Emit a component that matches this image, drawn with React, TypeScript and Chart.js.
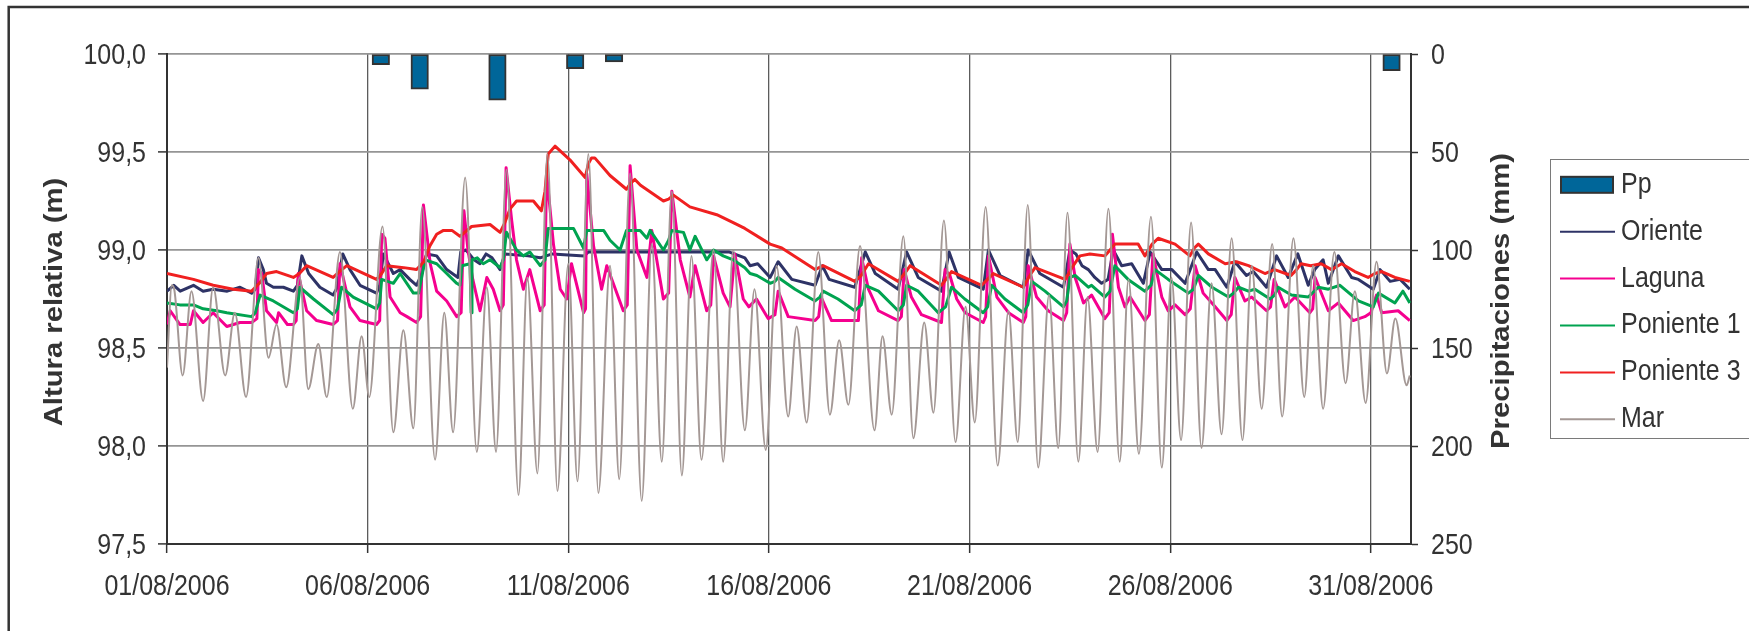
import React, { useEffect, useRef } from 'react';
import { Chart, registerables } from 'chart.js';

Chart.register(...registerables);

const W = 1749;
const H = 631;
const FONT = '"Liberation Sans", Arial, Helvetica, sans-serif';
const FS = 25;
const SY = 1.17;
const TXT = '#333333';

// ---- data ----
const barDates = ['01/08','02/08','03/08','04/08','05/08','06/08','07/08','08/08','09/08','10/08','11/08','12/08','13/08','14/08','15/08','16/08','17/08','18/08','19/08','20/08','21/08','22/08','23/08','24/08','25/08','26/08','27/08','28/08','29/08','30/08','31/08','01/09'];
const ppValues = [0,0,0,0,0,5.5,18,0,23.5,0,7.5,4,0,0,0,0,0,0,0,0,0,0,0,0,0,0,0,0,0,0,0,8.5];

const xTickDays = [0, 5, 10, 15, 20, 25, 30];
const xTickLabels = ['01/08/2006','06/08/2006','11/08/2006','16/08/2006','21/08/2006','26/08/2006','31/08/2006'];
const yTickValues = [97.5, 98, 98.5, 99, 99.5, 100];
const yTickLabels = ['97,5','98,0','98,5','99,0','99,5','100,0'];
const y2TickValues = [0, 50, 100, 150, 200, 250];
const y2TickLabels = ['0','50','100','150','200','250'];

// [day since 01/08/2006 00:00, level m]
const oriente: [number, number][] = [[0,98.79],[0.17,98.82],[0.33,98.79],[0.66,98.82],[0.90,98.79],[1.15,98.80],[1.50,98.79],[1.82,98.81],[2.11,98.78],[2.20,98.80],[2.28,98.96],[2.40,98.90],[2.48,98.83],[2.65,98.81],[2.90,98.81],[3.15,98.79],[3.25,98.82],[3.36,98.97],[3.53,98.88],[3.81,98.81],[4.14,98.77],[4.22,98.80],[4.38,98.98],[4.56,98.90],[4.81,98.82],[5.22,98.78],[5.30,98.82],[5.39,98.98],[5.64,98.88],[5.81,98.90],[6.05,98.85],[6.22,98.82],[6.35,98.88],[6.47,98.98],[6.72,98.97],[6.97,98.90],[7.25,98.86],[7.32,98.99],[7.45,99.00],[7.65,98.95],[7.80,98.93],[7.95,98.98],[8.10,98.96],[8.30,98.90],[8.42,98.98],[9.00,98.97],[9.30,98.96],[9.60,98.98],[10.40,98.97],[10.50,98.99],[14.00,98.99],[14.40,98.96],[14.53,98.92],[14.72,98.93],[15.03,98.86],[15.23,98.94],[15.57,98.85],[16.15,98.82],[16.33,98.92],[16.50,98.85],[17.14,98.81],[17.40,98.99],[17.65,98.88],[18.22,98.80],[18.43,98.99],[18.72,98.86],[19.30,98.79],[19.49,98.99],[19.72,98.86],[20.34,98.80],[20.47,99.00],[20.76,98.87],[21.34,98.81],[21.46,99.00],[21.75,98.88],[22.34,98.81],[22.50,99.00],[22.65,98.98],[22.80,98.92],[22.96,98.90],[23.12,98.86],[23.29,98.83],[23.45,98.85],[23.58,99.00],[23.79,98.92],[24.04,98.93],[24.33,98.83],[24.50,98.99],[24.79,98.90],[25.04,98.90],[25.37,98.83],[25.66,98.99],[25.95,98.90],[26.12,98.90],[26.41,98.81],[26.61,98.94],[26.90,98.87],[27.07,98.89],[27.40,98.81],[27.65,98.97],[27.94,98.86],[28.18,98.98],[28.44,98.82],[28.60,98.90],[28.81,98.95],[28.94,98.83],[29.19,98.97],[29.52,98.86],[29.69,98.85],[30.06,98.80],[30.23,98.90],[30.48,98.84],[30.73,98.85],[30.97,98.80]];

const laguna: [number, number][] = [[0,98.62],[0.08,98.69],[0.32,98.62],[0.58,98.62],[0.66,98.69],[0.90,98.63],[1.15,98.68],[1.49,98.61],[1.82,98.63],[2.11,98.63],[2.24,98.65],[2.28,98.90],[2.36,98.88],[2.48,98.69],[2.73,98.63],[2.78,98.68],[3.00,98.62],[3.15,98.62],[3.22,98.64],[3.27,98.88],[3.48,98.69],[3.73,98.64],[4.14,98.62],[4.25,98.64],[4.31,98.93],[4.56,98.71],[4.81,98.64],[5.22,98.62],[5.30,98.64],[5.35,99.08],[5.43,99.06],[5.56,98.76],[5.81,98.68],[5.98,98.66],[6.22,98.63],[6.32,98.66],[6.39,99.23],[6.56,98.93],[6.72,98.79],[6.97,98.74],[7.22,98.66],[7.33,98.68],[7.40,99.20],[7.50,99.00],[7.62,98.85],[7.80,98.69],[7.97,98.86],[8.13,98.80],[8.30,98.69],[8.38,98.72],[8.45,99.42],[8.59,99.15],[8.71,98.95],[8.88,98.80],[9.04,98.90],[9.30,98.69],[9.40,98.72],[9.46,99.39],[9.63,99.03],[9.80,98.80],[9.96,98.75],[10.08,98.93],[10.38,98.68],[10.43,98.70],[10.46,99.39],[10.63,99.02],[10.83,98.80],[10.96,98.92],[11.37,98.69],[11.47,98.72],[11.54,99.43],[11.71,99.00],[11.96,98.86],[12.08,99.10],[12.37,98.75],[12.50,98.78],[12.58,99.30],[12.79,98.95],[13.03,98.76],[13.16,98.92],[13.45,98.69],[13.55,98.72],[13.62,98.97],[13.86,98.78],[14.03,98.71],[14.15,98.98],[14.36,98.75],[14.50,98.71],[14.69,98.75],[14.98,98.65],[15.15,98.67],[15.23,98.79],[15.48,98.66],[16.15,98.64],[16.24,98.66],[16.30,98.76],[16.56,98.64],[17.23,98.64],[17.31,98.96],[17.48,98.80],[17.73,98.69],[18.22,98.64],[18.30,98.66],[18.37,98.90],[18.55,98.76],[18.80,98.67],[19.30,98.63],[19.39,98.90],[19.51,98.87],[19.68,98.75],[19.89,98.68],[20.34,98.63],[20.40,98.66],[20.47,98.97],[20.68,98.76],[20.97,98.68],[21.34,98.63],[21.40,98.66],[21.46,98.92],[21.67,98.76],[21.96,98.69],[22.34,98.64],[22.42,98.68],[22.50,99.03],[22.63,98.86],[22.84,98.73],[23.04,98.77],[23.37,98.65],[23.48,98.68],[23.56,99.08],[23.71,98.81],[23.87,98.71],[24.00,98.76],[24.37,98.64],[24.48,98.67],[24.57,98.98],[24.79,98.76],[24.95,98.69],[25.12,98.72],[25.37,98.67],[25.50,98.70],[25.62,98.92],[25.82,98.78],[26.12,98.71],[26.41,98.64],[26.52,98.67],[26.61,98.86],[26.86,98.74],[27.03,98.76],[27.40,98.69],[27.50,98.71],[27.59,98.85],[27.86,98.71],[28.11,98.76],[28.48,98.68],[28.55,98.70],[28.61,98.86],[28.94,98.69],[29.19,98.73],[29.56,98.64],[29.85,98.66],[30.00,98.68],[30.14,98.77],[30.27,98.68],[30.68,98.69],[30.97,98.64]];

const poniente1: [number, number][] = [[0,98.73],[0.32,98.72],[0.66,98.72],[0.90,98.70],[1.24,98.69],[1.49,98.68],[2.11,98.66],[2.20,98.68],[2.32,98.77],[2.65,98.74],[3.15,98.68],[3.25,98.70],[3.31,98.81],[3.65,98.75],[4.14,98.67],[4.25,98.70],[4.35,98.81],[4.64,98.76],[5.22,98.70],[5.30,98.73],[5.35,98.85],[5.64,98.83],[5.81,98.88],[6.14,98.78],[6.27,98.78],[6.43,98.95],[6.72,98.93],[6.97,98.88],[7.22,98.83],[7.30,98.82],[7.35,98.92],[7.55,98.93],[7.58,98.68],[7.60,98.95],[7.73,98.96],[7.88,98.93],[8.05,98.95],[8.30,98.91],[8.38,98.95],[8.46,99.09],[8.71,99.00],[8.88,98.97],[9.04,98.99],[9.30,98.92],[9.42,98.95],[9.50,99.11],[10.13,99.11],[10.38,99.01],[10.46,99.10],[10.88,99.10],[11.04,99.05],[11.29,99.00],[11.45,99.10],[11.79,99.10],[11.96,99.06],[12.04,99.10],[12.37,99.00],[12.50,99.05],[12.58,99.10],[12.87,99.09],[13.03,99.00],[13.16,99.07],[13.45,98.95],[13.62,99.00],[13.86,98.97],[14.11,98.95],[14.40,98.91],[14.53,98.88],[14.70,98.87],[15.03,98.83],[15.15,98.84],[15.23,98.86],[15.65,98.80],[16.15,98.74],[16.27,98.76],[16.35,98.79],[16.72,98.75],[17.14,98.69],[17.30,98.72],[17.40,98.82],[17.73,98.79],[18.22,98.69],[18.35,98.72],[18.43,98.82],[18.72,98.79],[19.22,98.68],[19.40,98.71],[19.55,98.81],[19.88,98.75],[20.34,98.68],[20.45,98.71],[20.55,98.82],[20.88,98.75],[21.34,98.68],[21.45,98.72],[21.55,98.84],[21.88,98.79],[22.34,98.71],[22.42,98.74],[22.50,98.86],[22.63,98.87],[22.96,98.81],[23.04,98.82],[23.37,98.76],[23.50,98.79],[23.62,98.92],[23.95,98.85],[24.37,98.79],[24.52,98.82],[24.62,98.90],[24.95,98.85],[25.45,98.78],[25.58,98.80],[25.70,98.87],[26.04,98.81],[26.45,98.76],[26.58,98.78],[26.70,98.81],[26.95,98.79],[27.11,98.80],[27.49,98.75],[27.60,98.77],[27.69,98.81],[28.02,98.77],[28.44,98.76],[28.69,98.81],[28.94,98.80],[29.23,98.82],[29.69,98.74],[30.06,98.71],[30.19,98.78],[30.60,98.73],[30.80,98.79],[30.97,98.73]];

const poniente3: [number, number][] = [[0,98.88],[0.66,98.85],[1.15,98.82],[1.65,98.80],[2.11,98.79],[2.30,98.83],[2.48,98.88],[2.73,98.89],[3.15,98.86],[3.30,98.88],[3.48,98.92],[4.14,98.86],[4.30,98.89],[4.48,98.92],[5.22,98.85],[5.35,98.88],[5.47,98.92],[5.90,98.91],[6.22,98.90],[6.40,98.94],[6.55,99.02],[6.72,99.08],[6.89,99.10],[7.10,99.10],[7.30,99.07],[7.59,99.12],[8.05,99.13],[8.30,99.09],[8.42,99.14],[8.55,99.21],[8.71,99.25],[9.13,99.25],[9.33,99.20],[9.42,99.30],[9.50,99.49],[9.67,99.53],[10.04,99.46],[10.42,99.37],[10.50,99.44],[10.58,99.47],[10.66,99.47],[11.04,99.38],[11.45,99.31],[11.55,99.34],[11.66,99.36],[11.80,99.33],[12.37,99.25],[12.50,99.26],[12.62,99.28],[13.03,99.22],[13.70,99.18],[14.11,99.14],[14.40,99.11],[15.03,99.03],[15.32,99.01],[16.15,98.90],[16.35,98.92],[17.14,98.84],[17.30,98.87],[17.48,98.93],[18.22,98.84],[18.38,98.88],[18.52,98.92],[19.30,98.82],[19.45,98.86],[19.55,98.89],[20.30,98.82],[20.45,98.85],[20.59,98.88],[21.34,98.81],[21.50,98.87],[21.63,98.91],[22.38,98.85],[22.55,98.91],[22.75,98.97],[23.00,98.98],[23.37,98.97],[23.50,99.00],[23.62,99.03],[24.20,99.03],[24.37,98.97],[24.55,99.03],[24.70,99.06],[25.12,99.03],[25.49,98.97],[25.60,99.01],[25.70,99.03],[25.95,98.98],[26.37,98.93],[26.65,98.94],[26.95,98.92],[27.36,98.88],[27.60,98.90],[28.01,98.87],[28.15,98.90],[28.26,98.93],[28.50,98.92],[28.76,98.93],[29.02,98.90],[29.27,98.93],[29.60,98.89],[29.93,98.86],[30.10,98.88],[30.27,98.89],[30.60,98.86],[30.97,98.84]];

const mar: [number, number][] = [[0.00,98.40],[0.12,98.82],[0.18,98.80],[0.39,98.36],[0.61,98.79],[0.90,98.23],[1.15,98.81],[1.45,98.36],[1.69,98.68],[1.97,98.25],[2.28,98.96],[2.53,98.45],[2.73,98.62],[2.97,98.30],[3.31,98.86],[3.52,98.29],[3.77,98.52],[3.98,98.25],[4.31,98.99],[4.63,98.19],[4.85,98.56],[5.04,98.25],[5.37,99.12],[5.64,98.07],[5.89,98.59],[6.14,98.09],[6.36,99.22],[6.68,97.93],[6.91,98.68],[7.13,98.07],[7.43,99.37],[7.72,97.97],[7.97,98.81],[8.20,97.97],[8.46,99.41],[8.76,97.75],[8.98,98.86],[9.23,97.86],[9.48,99.49],[9.73,97.77],[10.00,98.93],[10.23,97.82],[10.50,99.49],[10.75,97.76],[11.04,98.92],[11.27,97.83],[11.54,99.39],[11.83,97.72],[12.08,99.03],[12.33,97.92],[12.58,99.30],[12.83,97.85],[13.07,98.97],[13.32,97.93],[13.62,99.00],[13.86,97.92],[14.11,99.00],[14.40,98.08],[14.64,98.80],[14.92,97.98],[15.19,98.92],[15.48,98.15],[15.69,98.61],[15.94,98.12],[16.23,98.99],[16.52,98.16],[16.75,98.54],[16.98,98.21],[17.27,99.02],[17.63,98.08],[17.83,98.56],[18.06,98.16],[18.35,99.07],[18.60,98.04],[18.87,98.63],[19.10,98.17],[19.36,99.15],[19.65,98.02],[19.90,98.71],[20.13,98.12],[20.40,99.22],[20.70,97.90],[20.97,98.69],[21.20,98.02],[21.45,99.23],[21.71,97.89],[21.98,98.77],[22.21,97.99],[22.44,99.19],[22.71,97.92],[22.94,98.76],[23.19,97.97],[23.46,99.21],[23.74,97.92],[23.96,98.85],[24.22,97.96],[24.52,99.17],[24.79,97.89],[25.03,98.86],[25.27,98.03],[25.52,99.14],[25.78,97.99],[26.03,98.83],[26.28,98.06],[26.53,99.06],[26.80,98.03],[27.03,98.92],[27.28,98.19],[27.54,99.03],[27.79,98.15],[28.07,99.06],[28.34,98.25],[28.56,98.92],[28.81,98.19],[29.09,98.99],[29.37,98.32],[29.60,98.79],[29.87,98.22],[30.14,98.94],[30.40,98.37],[30.61,98.65],[30.89,98.31],[30.97,98.36]];

const C_PP = '#006699';
const C_OR = '#2e3366';
const C_LA = '#f5008f';
const C_P1 = '#00a350';
const C_P3 = '#f02020';
const C_MAR = '#a49895';

const legendItems = [
  { label: 'Pp', color: C_PP, box: true },
  { label: 'Oriente', color: C_OR },
  { label: 'Laguna', color: C_LA },
  { label: 'Poniente 1', color: C_P1 },
  { label: 'Poniente 3', color: C_P3 },
  { label: 'Mar', color: C_MAR },
];

function txt(ctx: CanvasRenderingContext2D, s: string, x: number, y: number, align: CanvasTextAlign, bold = false, rot = 0) {
  ctx.save();
  ctx.translate(x, y);
  ctx.scale(1, SY);
  if (rot) ctx.rotate(rot);
  ctx.font = `${bold ? 'bold ' : ''}${FS}px ${FONT}`;
  ctx.fillStyle = TXT;
  ctx.textAlign = align;
  ctx.textBaseline = 'alphabetic';
  ctx.fillText(s, 0, (FS * 0.716) / 2);
  ctx.restore();
}

const decorPlugin = {
  id: 'decor',
  afterDraw(chart: any) {
    const ctx: CanvasRenderingContext2D = chart.ctx;
    const xS = chart.scales.x;
    const yS = chart.scales.y;
    const y2S = chart.scales.y2;
    ctx.save();
    // outer frame
    ctx.strokeStyle = '#333';
    ctx.lineWidth = 2.5;
    ctx.beginPath();
    ctx.moveTo(8.7, H + 5);
    ctx.lineTo(8.7, 7);
    ctx.lineTo(W + 5, 7);
    ctx.stroke();

    yTickValues.forEach((v, i) => txt(ctx, yTickLabels[i], 146, yS.getPixelForValue(v), 'right'));
    y2TickValues.forEach((v, i) => txt(ctx, y2TickLabels[i], 1431, y2S.getPixelForValue(v), 'left'));
    xTickDays.forEach((d, i) => txt(ctx, xTickLabels[i], xS.getPixelForValue(d), 585, 'center'));

    txt(ctx, 'Altura relativa (m)', 53, 302, 'center', true, -Math.PI / 2);
    txt(ctx, 'Precipitaciones (mm)', 1500, 301, 'center', true, -Math.PI / 2);

    // legend
    ctx.strokeStyle = '#7a7a7a';
    ctx.lineWidth = 1;
    ctx.strokeRect(1550.5, 159.5, 300, 279);
    legendItems.forEach((it, i) => {
      const cy = 184.8 + i * 46.9;
      if (it.box) {
        ctx.fillStyle = '#333';
        ctx.fillRect(1560, cy - 9, 54, 18);
        ctx.fillStyle = it.color;
        ctx.fillRect(1562, cy - 7, 50, 14);
      } else {
        ctx.strokeStyle = it.color;
        ctx.lineWidth = 2;
        ctx.beginPath();
        ctx.moveTo(1560, cy);
        ctx.lineTo(1615, cy);
        ctx.stroke();
      }
      txt(ctx, it.label, 1621, cy - 2.5, 'left');
    });
    ctx.restore();
  },
};

const toXY = (arr: [number, number][]) => arr.map(([x, y]) => ({ x, y }));

export default function App() {
  const ref = useRef<HTMLCanvasElement>(null);
  useEffect(() => {
    const lineDs = (label: string, arr: [number, number][], color: string, width: number, order: number, smooth = false) => ({
      type: 'line' as const,
      label,
      data: toXY(arr),
      xAxisID: 'x',
      yAxisID: 'y',
      borderColor: color,
      backgroundColor: color,
      borderWidth: width,
      pointRadius: 0,
      borderJoinStyle: 'round' as const,
      cubicInterpolationMode: smooth ? ('monotone' as const) : ('default' as const),
      tension: 0,
      fill: false,
      order,
    });
    const chart = new Chart(ref.current as HTMLCanvasElement, {
      type: 'line',
      data: {
        datasets: [
          {
            type: 'bar',
            label: 'Pp',
            data: ppValues,
            xAxisID: 'xBar',
            yAxisID: 'y2',
            backgroundColor: C_PP,
            borderColor: '#333',
            borderWidth: 2,
            borderSkipped: false,
            barThickness: 17.5,
            grouped: false,
            order: 6,
          } as any,
          lineDs('Oriente', oriente, C_OR, 3, 5),
          lineDs('Laguna', laguna, C_LA, 3, 4),
          lineDs('Poniente 1', poniente1, C_P1, 3, 3),
          lineDs('Poniente 3', poniente3, C_P3, 3, 2),
          lineDs('Mar', mar, C_MAR, 2, 1, true),
        ],
      },
      options: {
        responsive: false,
        maintainAspectRatio: false,
        animation: false,
        devicePixelRatio: 1,
        layout: { padding: { top: 54, left: 0, right: W - 1411 - 40, bottom: 0 } },
        plugins: { legend: { display: false }, tooltip: { enabled: false } },
        scales: {
          x: {
            type: 'linear',
            position: 'bottom',
            min: 0,
            max: 31,
            ticks: { display: false, stepSize: 5, includeBounds: false },
            grid: { color: '#5c5c5c', lineWidth: 1.3, tickLength: 9, tickColor: '#333', tickWidth: 1.5 },
            border: { display: true, color: '#333', width: 2 },
            afterFit: (s: any) => { s.height = H - 544; },
          },
          xBar: { type: 'category', position: 'bottom', labels: barDates, display: false, offset: true, grid: { display: false, offset: true } },
          y: {
            position: 'left',
            min: 97.5,
            max: 100,
            ticks: { display: false, stepSize: 0.5 },
            grid: { color: '#959595', lineWidth: 1.8, tickLength: 9, tickColor: '#333', tickWidth: 1.5 },
            border: { display: true, color: '#333', width: 2 },
            afterFit: (s: any) => { s.width = 167; },
          },
          y2: {
            position: 'right',
            min: 0,
            max: 250,
            reverse: true,
            ticks: { display: false, stepSize: 50 },
            grid: { drawOnChartArea: false, tickLength: 7, tickColor: '#333', tickWidth: 1.5 },
            border: { display: true, color: '#333', width: 2 },
            afterFit: (s: any) => { s.width = 40; },
          },
        },
      } as any,
      plugins: [decorPlugin],
    });
    return () => chart.destroy();
  }, []);
  return (
    <canvas
      ref={ref}
      width={W}
      height={H}
      style={{ position: 'fixed', left: 0, top: 0, width: W, height: H, background: '#ffffff' }}
    />
  );
}
